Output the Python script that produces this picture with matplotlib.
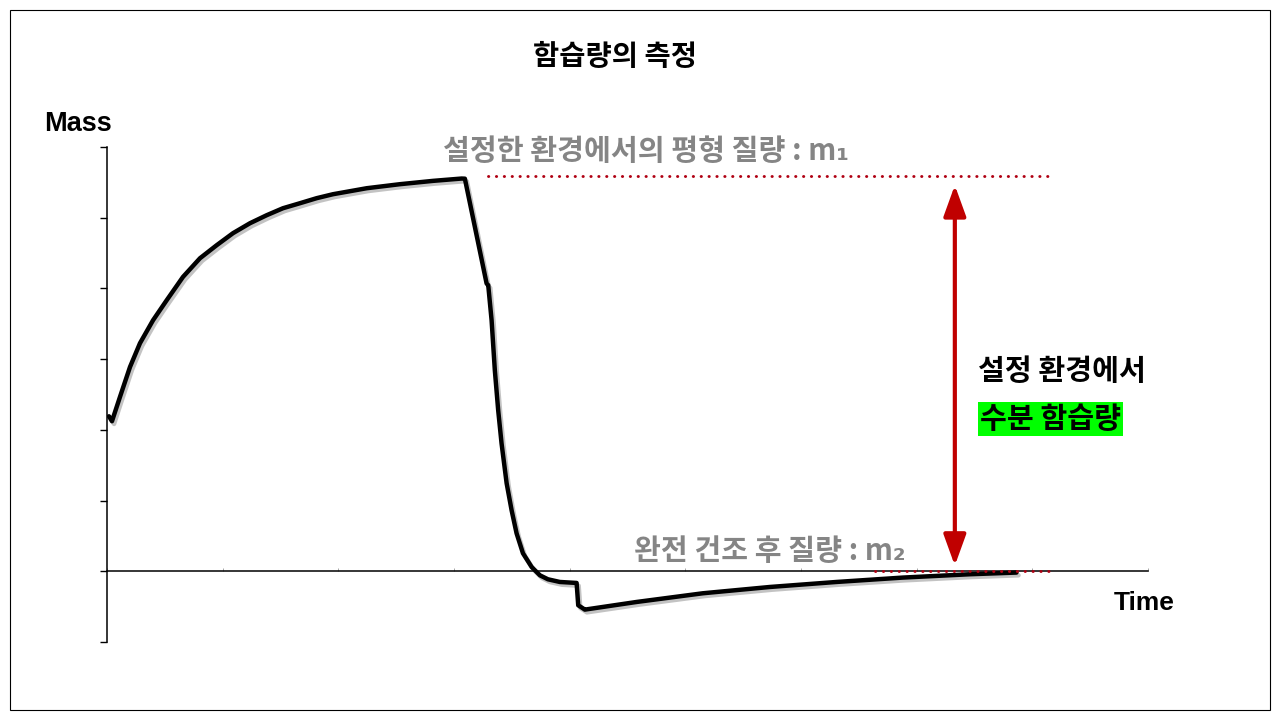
import matplotlib
matplotlib.use("Agg")
import matplotlib.pyplot as plt
import matplotlib.patheffects as pe
from matplotlib.patches import Rectangle

# ---- data (x in tick units 0..9, y in tick units -1..6) ----
curve_x = [0.017, 0.043, 0.112, 0.199, 0.285, 0.398, 0.516, 0.657, 0.804, 0.948,
           1.089, 1.236, 1.380, 1.521, 1.668, 1.812, 1.953, 2.245, 2.532, 2.818,
           3.066, 3.094, 3.282, 3.296, 3.325, 3.353, 3.382, 3.411, 3.455, 3.498,
           3.541, 3.596, 3.671, 3.743, 3.812, 3.915, 4.060, 4.074, 4.114, 4.131,
           4.578, 5.151, 5.730, 6.307, 6.880, 7.459, 7.863]
curve_y = [2.192, 2.122, 2.465, 2.890, 3.225, 3.550, 3.833, 4.163, 4.427, 4.611,
           4.781, 4.922, 5.035, 5.134, 5.205, 5.276, 5.332, 5.417, 5.474, 5.521,
           5.554, 5.552, 4.069, 4.045, 3.550, 2.843, 2.277, 1.810, 1.245, 0.863,
           0.537, 0.255, 0.061, -0.057, -0.113, -0.151, -0.165, -0.481, -0.523, -0.542,
           -0.434, -0.311, -0.222, -0.151, -0.089, -0.042, -0.018]

m1_level = 5.59
m1_x = [3.29, 8.17]
m2_level = 0.0
m2_x = [6.64, 8.19]
arrow_x = 7.33
arrow_y = [0.08, 5.46]

title = "함습량의 측정"
y_label = "Mass"
x_label = "Time"
m1_label = "설정한 환경에서의 평형 질량 : m\u2081"
m2_label = "완전 건조 후 질량 : m\u2082"
note1 = "설정 환경에서"
note2 = "수분 함습량"

W, H = 1280, 720
KR = ['Noto Sans CJK KR', 'DejaVu Sans']
LAT = ['Liberation Sans', 'DejaVu Sans']

fig = plt.figure(figsize=(12.8, 7.2), dpi=100)
fig.patch.set_facecolor('white')

def fx(px):
    return px / W

def fy(py):
    return 1 - py / H

# outer border
fig.patches.append(Rectangle((fx(10), fy(710)), fx(1270) - fx(10), fy(10) - fy(710),
                             transform=fig.transFigure, fill=False, edgecolor='black',
                             linewidth=0.8))

ax = fig.add_axes([fx(107), fy(642), fx(1148) - fx(107), fy(147) - fy(642)])
ax.set_xlim(0, 9)
ax.set_ylim(-1, 6)
ax.patch.set_alpha(0)

for s in ['top', 'right']:
    ax.spines[s].set_visible(False)
ax.spines['bottom'].set_position(('data', 0))
ax.spines['bottom'].set_linewidth(1.1)
ax.spines['left'].set_linewidth(1.1)

ax.set_yticks(range(-1, 7))
ax.set_xticks(range(0, 10))
ax.set_yticklabels([])
ax.set_xticklabels([])
ax.tick_params(axis='y', direction='out', length=5, width=1.0, color='black')
ax.tick_params(axis='x', direction='in', length=2.5, width=0.6, color='#999999')

# curve with shadow
ax.plot(curve_x, curve_y, color='black', linewidth=3.2, solid_joinstyle='round',
        solid_capstyle='round',
        path_effects=[pe.SimpleLineShadow(offset=(1.5, -2), shadow_color='#555555', alpha=0.35),
                      pe.Normal()], zorder=3)

red = '#B00012'
ax.plot(m1_x, [m1_level, m1_level], color=red, linewidth=2.1,
        linestyle=(0, (0.1, 2.6)), dash_capstyle='round', zorder=2)
ax.plot(m2_x, [m2_level, m2_level], color=red, linewidth=2.1,
        linestyle=(0, (0.1, 2.6)), dash_capstyle='round', zorder=4)

ax.annotate('', xy=(arrow_x, arrow_y[1]), xytext=(arrow_x, arrow_y[0]),
            arrowprops=dict(arrowstyle='<|-|>,head_length=1.05,head_width=0.38',
                            color='#C00000', lw=3, shrinkA=0, shrinkB=0,
                            mutation_scale=18), zorder=5)

gray = '#858585'
fig.text(fx(615), fy(57), title, family=KR, fontsize=20.5, fontweight='bold',
         ha='center', va='center', color='black')
fig.text(fx(44), fy(124), y_label, family=LAT, fontsize=19.5, fontweight='bold',
         ha='left', va='center', color='black')
fig.text(fx(1114), fy(603), x_label, family=LAT, fontsize=19, fontweight='bold',
         ha='left', va='center', color='black')
fig.text(fx(443), fy(151), m1_label, family=KR, fontsize=21, fontweight='bold',
         ha='left', va='center', color=gray)
fig.text(fx(634), fy(551), m2_label, family=KR, fontsize=21, fontweight='bold',
         ha='left', va='center', color=gray)
fig.text(fx(978), fy(371), note1, family=KR, fontsize=21, fontweight='bold',
         ha='left', va='center', color='black')
fig.text(fx(980), fy(419), note2, family=KR, fontsize=21, fontweight='bold',
         ha='left', va='center', color='black',
         bbox=dict(boxstyle='square,pad=0.08', facecolor='#00FF00', edgecolor='none'))

fig.savefig('out.png', dpi=100, facecolor='white')
